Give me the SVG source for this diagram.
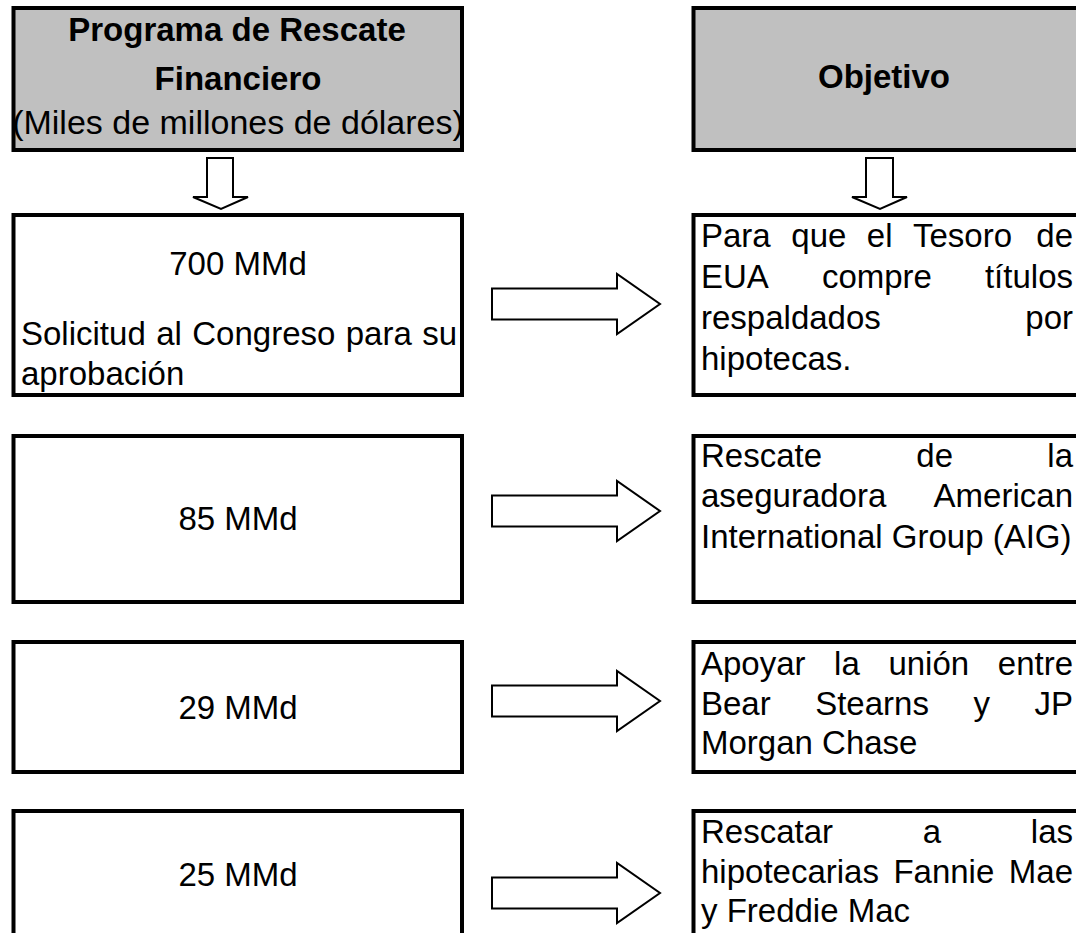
<svg xmlns="http://www.w3.org/2000/svg" width="1076" height="933" viewBox="0 0 1076 933">
<style>
.box{fill:#fff;stroke:#000;stroke-width:4}
.hdr{fill:#c0c0c0;stroke:#000;stroke-width:4}
.t{font-family:"Liberation Sans",Arial,sans-serif;font-size:33px;fill:#000}
.b{font-weight:bold;font-size:33px}
.m{font-size:34px}
.c{text-anchor:middle}
.e{text-anchor:end}
.arr{fill:#fff;stroke:#000;stroke-width:2;stroke-linejoin:miter}
</style>
<defs>
<path id="rarrow" d="M492,-15.5 H617 V-30 L660,0 L617,30 V15.5 H492 Z"/>
</defs>
<rect width="1076" height="933" fill="#fff"/>
<g id="header-left">
<rect class="hdr" x="13.5" y="8" width="448.5" height="142"/>
<text class="t b c" x="237" y="41">Programa de Rescate</text>
<text class="t b c" x="238" y="90">Financiero</text>
<text class="t m c" x="238" y="134">(Miles de millones de dólares)</text>
</g>
<g id="header-right">
<rect class="hdr" x="693.5" y="8" width="390" height="142"/>
<text class="t b c" x="884" y="88">Objetivo</text>
</g>
<g id="left-700">
<rect class="box" x="13.5" y="215" width="448.5" height="180"/>
<text class="t c" x="238" y="275">700 MMd</text>
<text class="t" x="21" y="345" word-spacing="1.25">Solicitud al Congreso para su</text>
<text class="t" x="21" y="385">aprobación</text>
</g>
<g id="left-85">
<rect class="box" x="13.5" y="436" width="448.5" height="166"/>
<text class="t c" x="238" y="530">85 MMd</text>
</g>
<g id="left-29">
<rect class="box" x="13.5" y="642" width="448.5" height="130"/>
<text class="t c" x="238" y="719">29 MMd</text>
</g>
<g id="left-25">
<rect class="box" x="13.5" y="811" width="448.5" height="140"/>
<text class="t c" x="238" y="886">25 MMd</text>
</g>
<g id="right-1">
<rect class="box" x="693.5" y="215" width="390" height="180"/>
<text class="t" y="247"><tspan x="701">Para</tspan><tspan x="791.3">que</tspan><tspan x="866.8">el</tspan><tspan x="913">Tesoro</tspan><tspan x="1073" text-anchor="end">de</tspan></text>
<text class="t" y="288"><tspan x="701">EUA</tspan><tspan x="821.9">compre</tspan><tspan x="1073" text-anchor="end">títulos</tspan></text>
<text class="t" y="329"><tspan x="701">respaldados</tspan><tspan x="1073" text-anchor="end">por</tspan></text>
<text class="t" x="701" y="370">hipotecas.</text>
</g>
<g id="right-2">
<rect class="box" x="693.5" y="436" width="390" height="166"/>
<text class="t" y="467"><tspan x="701">Rescate</tspan><tspan x="916.3">de</tspan><tspan x="1073" text-anchor="end">la</tspan></text>
<text class="t" y="507"><tspan x="701">aseguradora</tspan><tspan x="1073" text-anchor="end">American</tspan></text>
<text class="t" x="701" y="548">International Group (AIG)</text>
</g>
<g id="right-3">
<rect class="box" x="693.5" y="642" width="390" height="130"/>
<text class="t" y="675"><tspan x="701">Apoyar</tspan><tspan x="834.1">la</tspan><tspan x="888.4">unión</tspan><tspan x="1073" text-anchor="end">entre</tspan></text>
<text class="t" y="715"><tspan x="701">Bear</tspan><tspan x="815.2">Stearns</tspan><tspan x="973.4">y</tspan><tspan x="1073" text-anchor="end">JP</tspan></text>
<text class="t" x="701" y="754">Morgan Chase</text>
</g>
<g id="right-4">
<rect class="box" x="693.5" y="811" width="390" height="140"/>
<text class="t" y="843"><tspan x="701">Rescatar</tspan><tspan x="922.8">a</tspan><tspan x="1073" text-anchor="end">las</tspan></text>
<text class="t" y="883"><tspan x="701">hipotecarias</tspan><tspan x="893.4">Fannie</tspan><tspan x="1073" text-anchor="end">Mae</tspan></text>
<text class="t" x="701" y="922">y Freddie Mac</text>
</g>
<g id="connectors">
<path class="arr" d="M207,158 H233 V197 H248 L221,209 L193,197 H207 Z"/>
<path class="arr" d="M866,158 H893 V197 H907 L880,209 L852,197 H866 Z"/>
<use href="#rarrow" class="arr" transform="translate(0,304)"/>
<use href="#rarrow" class="arr" transform="translate(0,511)"/>
<use href="#rarrow" class="arr" transform="translate(0,701)"/>
<use href="#rarrow" class="arr" transform="translate(0,893)"/>
</g>
</svg>
